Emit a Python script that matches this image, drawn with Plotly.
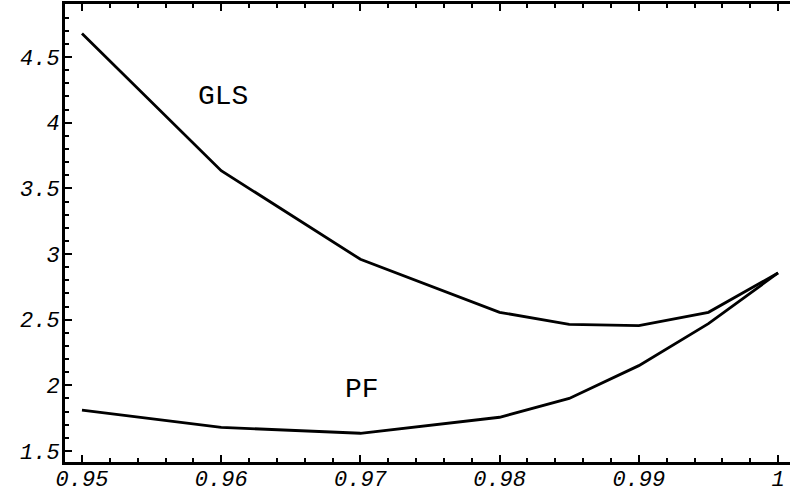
import plotly.graph_objects as go

# Smoothing parameter grid and the two curves
lam = [0.95, 0.96, 0.97, 0.98, 0.985, 0.99, 0.995, 1.0]
gls = [4.68, 3.635, 2.96, 2.556, 2.465, 2.454, 2.556, 2.856]
pf = [1.812, 1.68, 1.635, 1.757, 1.90, 2.15, 2.47, 2.856]

x_ticks = [0.95, 0.96, 0.97, 0.98, 0.99, 1.0]
x_labels = ["0.95", "0.96", "0.97", "0.98", "0.99", "1"]
y_ticks = [1.5, 2.0, 2.5, 3.0, 3.5, 4.0, 4.5]
y_labels = ["1.5", "2", "2.5", "3", "3.5", "4", "4.5"]

line_style = dict(color="black", width=2.8)
tick_font = dict(family="Liberation Mono", size=22, color="black", style="italic")
label_font = dict(family="Liberation Mono", size=28, color="black")

fig = go.Figure()
fig.add_trace(go.Scatter(x=lam, y=gls, mode="lines", line=line_style, name="GLS"))
fig.add_trace(go.Scatter(x=lam, y=pf, mode="lines", line=line_style, name="PF"))

fig.add_annotation(x=0.9601, y=4.198, text="GLS", showarrow=False, font=label_font)
fig.add_annotation(x=0.9701, y=1.965, text="PF", showarrow=False, font=label_font)

axis_common = dict(
    ticks="inside",
    ticklen=7,
    tickwidth=2,
    tickcolor="black",
    showline=True,
    linecolor="black",
    linewidth=3,
    showgrid=False,
    zeroline=False,
    tickfont=tick_font,
    automargin=False,
)

fig.update_layout(
    template="none",
    width=790,
    height=495,
    margin=dict(l=65, r=0, t=4, b=33),
    paper_bgcolor="white",
    plot_bgcolor="white",
    showlegend=False,
    xaxis=dict(
        range=[0.94878, 1.00086],
        tickmode="array",
        tickvals=x_ticks,
        ticktext=x_labels,
        minor=dict(dtick=0.002, tick0=0.95, ticks="inside", ticklen=4, tickwidth=1.5, tickcolor="black"),
        mirror="ticks",
        ticklabelstandoff=-5,
        **axis_common,
    ),
    yaxis=dict(
        range=[1.4162, 4.904],
        tickmode="array",
        tickvals=y_ticks,
        ticktext=y_labels,
        minor=dict(dtick=0.1, tick0=1.5, ticks="inside", ticklen=4, tickwidth=1.5, tickcolor="black"),
        ticklabelstandoff=-2,
        **axis_common,
    ),
)

fig.write_html("out.html")
